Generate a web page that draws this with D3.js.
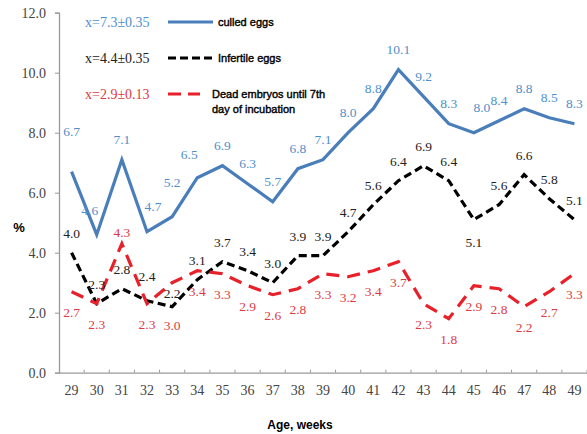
<!DOCTYPE html>
<html>
<head>
<meta charset="utf-8">
<script src="https://cdn.jsdelivr.net/npm/d3@7"></script>
<style>
  body { margin: 0; background: #fff; }
  svg { display: block; }
</style>
</head>
<body>
<svg width="587" height="434"></svg>
<script>
// data
var weeks = [29,30,31,32,33,34,35,36,37,38,39,40,41,42,43,44,45,46,47,48,49];
var culled = [6.7,4.6,7.1,4.7,5.2,6.5,6.9,6.3,5.7,6.8,7.1,8.0,8.8,10.1,9.2,8.3,8.0,8.4,8.8,8.5,8.3];
var infertile = [4.0,2.3,2.8,2.4,2.2,3.1,3.7,3.4,3.0,3.9,3.9,4.7,5.6,6.4,6.9,6.4,5.1,5.6,6.6,5.8,5.1];
var deadEmbryos = [2.7,2.3,4.3,2.3,3.0,3.4,3.3,2.9,2.6,2.8,3.3,3.2,3.4,3.7,2.3,1.8,2.9,2.8,2.2,2.7,3.3];
var yTicks = [0,2,4,6,8,10,12];
var legendMeans = ["x=7.3\u00b10.35", "x=4.4\u00b10.35", "x=2.9\u00b10.13"];
var legendNames = [["culled eggs"], ["Infertile eggs"], ["Dead embryos until 7th", "day of incubation"]];

var svg = d3.select("svg"),
    width = +svg.attr("width"),
    height = +svg.attr("height");

var x = d3.scaleBand().domain(weeks).range([59, 587]);
var y = d3.scaleLinear().domain([0, 12]).range([372.7, 12.7]);

// label placement tweaks (offset from the point), by week index
var labelDx = {
  blue: {1: -7, 3: 6, 5: -8, 16: 8},
  black: {},
  red: {}
};
var labelDy = {
  blue: {def: -20, 0: -40, 1: -24, 3: -25, 5: -23, 4: -34, 16: -25},
  black: {def: -19, 3: -24, 4: -13, 16: 23},
  red: {def: 21, 2: -11, 4: 43}
};

var series = [
  {key: "blue", values: culled, stroke: "#4a7ebb", label: "#4f8fcb", dash: null},
  {key: "black", values: infertile, stroke: "#000", label: "#222", dash: "8,4.5"},
  {key: "red", values: deadEmbryos, stroke: "#e8202a", label: "#dd3a44", dash: "13,8"}
];

// axes
var yAxis = svg.append("g")
    .attr("transform", "translate(59,0)")
    .call(d3.axisLeft(y).tickValues(yTicks).tickFormat(d3.format(".1f")).tickSize(4).tickPadding(9));
yAxis.select(".domain").attr("stroke", "#999").attr("stroke-width", 1.3);
yAxis.selectAll(".tick line").attr("stroke", "#999");
yAxis.selectAll("text").attr("font-family", "Liberation Serif").attr("font-size", 14).attr("fill", "#444");

var xAxis = svg.append("g")
    .attr("transform", "translate(0," + y(0) + ")")
    .call(d3.axisBottom(x).tickSize(0).tickPadding(12));
xAxis.select(".domain").attr("stroke", "#999").attr("stroke-width", 1.3);
xAxis.selectAll("text").attr("font-family", "Liberation Serif").attr("font-size", 14).attr("fill", "#444");
// tick marks between the bands
svg.append("g").selectAll("line")
    .data(weeks)
    .enter().append("line")
    .attr("x1", function(d) { return x(d) + x.bandwidth(); })
    .attr("x2", function(d) { return x(d) + x.bandwidth(); })
    .attr("y1", y(0) - 3)
    .attr("y2", y(0))
    .attr("stroke", "#999");

svg.append("text")
    .attr("x", 300).attr("y", 429)
    .attr("text-anchor", "middle")
    .attr("font-family", "Liberation Sans").attr("font-weight", "bold").attr("font-size", 12)
    .text("Age, weeks");

svg.append("text")
    .attr("x", 19).attr("y", 232)
    .attr("text-anchor", "middle")
    .attr("font-family", "Liberation Sans").attr("font-weight", "bold").attr("font-size", 13)
    .text("%");

// lines
var line = d3.line()
    .x(function(d, i) { return x(weeks[i]) + x.bandwidth() / 2; })
    .y(function(d) { return y(d); });

series.forEach(function(s) {
  svg.append("path")
      .datum(s.values)
      .attr("d", line)
      .attr("fill", "none")
      .attr("stroke", s.stroke)
      .attr("stroke-width", 3.2)
      .attr("stroke-dasharray", s.dash);
});

// value labels
series.forEach(function(s) {
  svg.append("g").selectAll("text")
      .data(s.values)
      .enter().append("text")
      .attr("x", function(d, i) { return x(weeks[i]) + x.bandwidth() / 2 + (labelDx[s.key][i] || 0); })
      .attr("y", function(d, i) {
        var dy = labelDy[s.key][i];
        if (dy === undefined) dy = labelDy[s.key].def;
        return y(d) + dy + 4.5;
      })
      .attr("text-anchor", "middle")
      .attr("font-family", "Liberation Serif").attr("font-size", 13.5)
      .attr("fill", s.label)
      .text(function(d) { return d.toFixed(1); });
});

// legend
var legendY = [22, 58, 94];
series.forEach(function(s, i) {
  var g = svg.append("g").attr("transform", "translate(0," + legendY[i] + ")");
  g.append("text")
      .attr("x", 85).attr("y", 5)
      .attr("font-family", "Liberation Serif").attr("font-size", 14)
      .attr("fill", s.label)
      .text(legendMeans[i]);
  g.append("line")
      .attr("x1", 168).attr("x2", i == 2 ? 200 : 213)
      .attr("stroke", s.stroke).attr("stroke-width", 3)
      .attr("stroke-dasharray", i == 2 ? "13,7" : (i == 1 ? "8,4" : null));
  g.selectAll("text.name")
      .data(legendNames[i])
      .enter().append("text")
      .attr("class", "name")
      .attr("x", i == 2 ? 212 : 218)
      .attr("y", function(d, j) { return 4 + j * 15; })
      .attr("font-family", "Liberation Sans").attr("font-size", 11)
      .attr("stroke", "#000").attr("stroke-width", 0.4)
      .text(function(d) { return d; });
});
</script>
</body>
</html>
